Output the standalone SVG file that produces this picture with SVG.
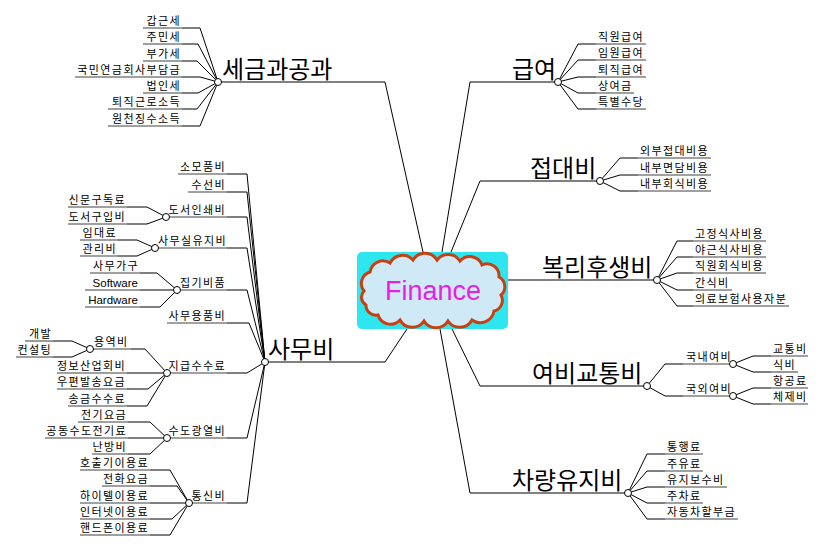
<svg xmlns="http://www.w3.org/2000/svg" width="831" height="550" viewBox="0 0 831 550">
<style>
.s{font-family:"Noto Sans CJK KR","Noto Sans",sans-serif;font-size:11px;letter-spacing:1.4px;fill:#000}
.m{font-family:"Noto Sans CJK KR","Noto Sans",sans-serif;font-size:24px;fill:#000}
.e{font-family:"Liberation Sans",Arial,sans-serif;font-size:11.5px;fill:#000}
.r{text-anchor:end}
.u{stroke:#808080;stroke-width:1.6;fill:none}
.um{stroke:#808080;stroke-width:2;fill:none}
.c{stroke:#000;stroke-width:1;fill:none}
.d{fill:#fff;stroke:#000;stroke-width:1}
</style>
<rect width="831" height="550" fill="#fff"/>
<g id="connectors">
<polyline class="c" points="423,252 385,82 336,82"/>
<polyline class="c" points="442,252 470,82 510,82"/>
<polyline class="c" points="451,252 480,181 528,181"/>
<polyline class="c" points="508,280 540,280"/>
<polyline class="c" points="452,329 480,386 530,386"/>
<polyline class="c" points="440,329 470,493 510,493"/>
<polyline class="c" points="407,329 385,362 336,362"/>
<polyline class="c" points="218,82 200,28 182,28"/>
<polyline class="c" points="218,82 198,44 182,44"/>
<polyline class="c" points="218,82 197,61 182,61"/>
<polyline class="c" points="218,82 200,77 182,77"/>
<polyline class="c" points="218,82 198,93 182,93"/>
<polyline class="c" points="218,82 197,109 182,109"/>
<polyline class="c" points="218,82 200,126 182,126"/>
<polyline class="c" points="558,82 578,44 596,44"/>
<polyline class="c" points="558,82 578,60 596,60"/>
<polyline class="c" points="558,82 578,77 596,77"/>
<polyline class="c" points="558,82 578,93 596,93"/>
<polyline class="c" points="558,82 578,109 596,109"/>
<polyline class="c" points="600,181 620,158 638,158"/>
<polyline class="c" points="600,181 620,175 638,175"/>
<polyline class="c" points="600,181 620,191 638,191"/>
<polyline class="c" points="657,280 677,241 693,241"/>
<polyline class="c" points="657,280 677,257 693,257"/>
<polyline class="c" points="657,280 677,273 693,273"/>
<polyline class="c" points="657,280 677,290 693,290"/>
<polyline class="c" points="657,280 677,306 693,306"/>
<polyline class="c" points="647,386 665,364 683,364"/>
<polyline class="c" points="647,386 665,396 683,396"/>
<polyline class="c" points="733,364 753,356 771,356"/>
<polyline class="c" points="733,364 753,372 771,372"/>
<polyline class="c" points="733,396 753,388 771,388"/>
<polyline class="c" points="733,396 753,404 771,404"/>
<polyline class="c" points="628,493 647,454 665,454"/>
<polyline class="c" points="628,493 647,471 665,471"/>
<polyline class="c" points="628,493 647,487 665,487"/>
<polyline class="c" points="628,493 647,503 665,503"/>
<polyline class="c" points="628,493 647,519 665,519"/>
<polyline class="c" points="265,362 247,174 227,174"/>
<polyline class="c" points="265,362 247,192 227,192"/>
<polyline class="c" points="265,362 247,217 227,217"/>
<polyline class="c" points="265,362 247,248 227,248"/>
<polyline class="c" points="265,362 247,290 227,290"/>
<polyline class="c" points="265,362 249,323 227,323"/>
<polyline class="c" points="265,362 247,373 227,373"/>
<polyline class="c" points="265,362 247,438 227,438"/>
<polyline class="c" points="265,362 247,503 227,503"/>
<polyline class="c" points="166,217 147,207 127,207"/>
<polyline class="c" points="166,217 147,224 127,224"/>
<polyline class="c" points="155,248 137,240 118,240"/>
<polyline class="c" points="155,248 137,256 118,256"/>
<polyline class="c" points="177,290 157,273 140,273"/>
<polyline class="c" points="177,290 140,290"/>
<polyline class="c" points="177,290 160,307 140,307"/>
<polyline class="c" points="167,373 145,349 131,349"/>
<polyline class="c" points="90,349 72,341 53,341"/>
<polyline class="c" points="90,349 72,357 53,357"/>
<polyline class="c" points="167,373 127,373"/>
<polyline class="c" points="167,373 148,389 127,389"/>
<polyline class="c" points="167,373 147,406 127,406"/>
<polyline class="c" points="167,438 150,422 128,422"/>
<polyline class="c" points="167,438 128,438"/>
<polyline class="c" points="167,438 150,454 128,454"/>
<polyline class="c" points="189,503 170,470 150,470"/>
<polyline class="c" points="189,503 177,486 150,486"/>
<polyline class="c" points="189,503 150,503"/>
<polyline class="c" points="189,503 172,519 150,519"/>
<polyline class="c" points="189,503 170,535 150,535"/>
</g>

<g id="n-finance">
<rect x="357" y="252" width="151" height="77" rx="5" fill="#2ee6f0"/>
<path d="M364,291 A12,12 0 0 1 370,272 A13,13 0 0 1 390,263 A14,14 0 0 1 413,260 A14,14 0 0 1 437,260 A14,14 0 0 1 460,261 A13,13 0 0 1 482,265 A12,12 0 0 1 499,277 A11,11 0 0 1 501,295 A11,11 0 0 1 494,311 A14,14 0 0 1 472,320 A14,14 0 0 1 448,321 A14,14 0 0 1 424,321 A14,14 0 0 1 400,320 A13,13 0 0 1 378,315 A10,10 0 0 1 366,305 A9,9 0 0 1 364,291 Z" fill="#cfe9f7" stroke="#c8400f" stroke-width="3"/>
<text x="433" y="300" text-anchor="middle" font-family="'Liberation Sans',Arial,sans-serif" font-size="27" fill="#e61ee6">Finance</text>
</g>

<g id="n-tax">
<line class="um" x1="218" y1="82" x2="336" y2="82"/>
<text class="m" x="222" y="78">세금과공과</text>
<circle class="d" cx="218" cy="82" r="3.5"/>
</g>
<g id="n-tax-1"><line class="u" x1="143" y1="28" x2="182" y2="28"/><text class="s r" x="181" y="25">갑근세</text></g>
<g id="n-tax-2"><line class="u" x1="143" y1="44" x2="182" y2="44"/><text class="s r" x="181" y="41">주민세</text></g>
<g id="n-tax-3"><line class="u" x1="143" y1="61" x2="182" y2="61"/><text class="s r" x="181" y="58">부가세</text></g>
<g id="n-tax-4"><line class="u" x1="75" y1="77" x2="182" y2="77"/><text class="s r" x="181" y="74">국민연금회사부담금</text></g>
<g id="n-tax-5"><line class="u" x1="143" y1="93" x2="182" y2="93"/><text class="s r" x="181" y="90">법인세</text></g>
<g id="n-tax-6"><line class="u" x1="108" y1="109" x2="182" y2="109"/><text class="s r" x="181" y="106">퇴직근로소득</text></g>
<g id="n-tax-7"><line class="u" x1="108" y1="126" x2="182" y2="126"/><text class="s r" x="181" y="123">원천징수소득</text></g>

<g id="n-pay">
<line class="um" x1="510" y1="82" x2="558" y2="82"/>
<text class="m" x="512" y="78">급여</text>
<circle class="d" cx="558" cy="82" r="3.5"/>
</g>
<g id="n-pay-1"><line class="u" x1="596" y1="44" x2="646" y2="44"/><text class="s" x="598" y="41">직원급여</text></g>
<g id="n-pay-2"><line class="u" x1="596" y1="60" x2="646" y2="60"/><text class="s" x="598" y="57">임원급여</text></g>
<g id="n-pay-3"><line class="u" x1="596" y1="77" x2="646" y2="77"/><text class="s" x="598" y="74">퇴직급여</text></g>
<g id="n-pay-4"><line class="u" x1="596" y1="93" x2="634" y2="93"/><text class="s" x="598" y="90">상여금</text></g>
<g id="n-pay-5"><line class="u" x1="596" y1="109" x2="646" y2="109"/><text class="s" x="598" y="106">특별수당</text></g>

<g id="n-ent">
<line class="um" x1="528" y1="181" x2="600" y2="181"/>
<text class="m" x="530" y="177">접대비</text>
<circle class="d" cx="600" cy="181" r="3.5"/>
</g>
<g id="n-ent-1"><line class="u" x1="638" y1="158" x2="711" y2="158"/><text class="s" x="640" y="155">외부접대비용</text></g>
<g id="n-ent-2"><line class="u" x1="638" y1="175" x2="711" y2="175"/><text class="s" x="640" y="172">내부면담비용</text></g>
<g id="n-ent-3"><line class="u" x1="638" y1="191" x2="711" y2="191"/><text class="s" x="640" y="188">내부회식비용</text></g>

<g id="n-welfare">
<line class="um" x1="540" y1="280" x2="657" y2="280"/>
<text class="m" x="542" y="276">복리후생비</text>
<circle class="d" cx="657" cy="280" r="3.5"/>
</g>
<g id="n-wel-1"><line class="u" x1="693" y1="241" x2="766" y2="241"/><text class="s" x="695" y="238">고정식사비용</text></g>
<g id="n-wel-2"><line class="u" x1="693" y1="257" x2="766" y2="257"/><text class="s" x="695" y="254">야근식사비용</text></g>
<g id="n-wel-3"><line class="u" x1="693" y1="273" x2="766" y2="273"/><text class="s" x="695" y="270">직원회식비용</text></g>
<g id="n-wel-4"><line class="u" x1="693" y1="290" x2="732" y2="290"/><text class="s" x="695" y="287">간식비</text></g>
<g id="n-wel-5"><line class="u" x1="693" y1="306" x2="789" y2="306"/><text class="s" x="695" y="303">의료보험사용자분</text></g>

<g id="n-travel">
<line class="um" x1="530" y1="386" x2="647" y2="386"/>
<text class="m" x="532" y="382">여비교통비</text>
<circle class="d" cx="647" cy="386" r="3.5"/>
</g>
<g id="n-trv-dom">
<line class="u" x1="683" y1="364" x2="733" y2="364"/>
<text class="s r" x="732" y="361">국내여비</text>
<circle class="d" cx="733" cy="364" r="3.5"/>
</g>
<g id="n-trv-dom-1"><line class="u" x1="771" y1="356" x2="808" y2="356"/><text class="s" x="773" y="353">교통비</text></g>
<g id="n-trv-dom-2"><line class="u" x1="771" y1="372" x2="798" y2="372"/><text class="s" x="773" y="369">식비</text></g>
<g id="n-trv-abr">
<line class="u" x1="683" y1="396" x2="733" y2="396"/>
<text class="s r" x="732" y="393">국외여비</text>
<circle class="d" cx="733" cy="396" r="3.5"/>
</g>
<g id="n-trv-abr-1"><line class="u" x1="771" y1="388" x2="808" y2="388"/><text class="s" x="773" y="385">항공료</text></g>
<g id="n-trv-abr-2"><line class="u" x1="771" y1="404" x2="808" y2="404"/><text class="s" x="773" y="401">체제비</text></g>

<g id="n-vehicle">
<line class="um" x1="510" y1="493" x2="628" y2="493"/>
<text class="m" x="512" y="489">차량유지비</text>
<circle class="d" cx="628" cy="493" r="3.5"/>
</g>
<g id="n-veh-1"><line class="u" x1="665" y1="454" x2="703" y2="454"/><text class="s" x="667" y="451">통행료</text></g>
<g id="n-veh-2"><line class="u" x1="665" y1="471" x2="703" y2="471"/><text class="s" x="667" y="468">주유료</text></g>
<g id="n-veh-3"><line class="u" x1="665" y1="487" x2="727" y2="487"/><text class="s" x="667" y="484">유지보수비</text></g>
<g id="n-veh-4"><line class="u" x1="665" y1="503" x2="703" y2="503"/><text class="s" x="667" y="500">주차료</text></g>
<g id="n-veh-5"><line class="u" x1="665" y1="519" x2="738" y2="519"/><text class="s" x="667" y="516">자동차할부금</text></g>

<g id="n-office">
<line class="um" x1="265" y1="362" x2="336" y2="362"/>
<text class="m" x="268" y="358">사무비</text>
<circle class="d" cx="265" cy="362" r="3.5"/>
</g>
<g id="n-off-1"><line class="u" x1="178" y1="174" x2="227" y2="174"/><text class="s r" x="226" y="171">소모품비</text></g>
<g id="n-off-2"><line class="u" x1="188" y1="192" x2="227" y2="192"/><text class="s r" x="226" y="189">수선비</text></g>
<g id="n-off-3">
<line class="u" x1="166" y1="217" x2="227" y2="217"/>
<text class="s r" x="226" y="214">도서인쇄비</text>
<circle class="d" cx="166" cy="217" r="3.5"/>
</g>
<g id="n-off-3-1"><line class="u" x1="68" y1="207" x2="127" y2="207"/><text class="s r" x="126" y="204">신문구독료</text></g>
<g id="n-off-3-2"><line class="u" x1="68" y1="224" x2="127" y2="224"/><text class="s r" x="126" y="221">도서구입비</text></g>
<g id="n-off-4">
<line class="u" x1="155" y1="248" x2="227" y2="248"/>
<text class="s r" x="227" y="245">사무실유지비</text>
<circle class="d" cx="155" cy="248" r="3.5"/>
</g>
<g id="n-off-4-1"><line class="u" x1="80" y1="240" x2="118" y2="240"/><text class="s r" x="117" y="237">임대료</text></g>
<g id="n-off-4-2"><line class="u" x1="80" y1="256" x2="118" y2="256"/><text class="s r" x="117" y="253">관리비</text></g>
<g id="n-off-5">
<line class="u" x1="177" y1="290" x2="227" y2="290"/>
<text class="s r" x="226" y="287">집기비품</text>
<circle class="d" cx="177" cy="290" r="3.5"/>
</g>
<g id="n-off-5-1"><line class="u" x1="90" y1="273" x2="140" y2="273"/><text class="s r" x="139" y="270">사무가구</text></g>
<g id="n-off-5-2"><line class="u" x1="85" y1="290" x2="140" y2="290"/><text class="e r" x="138" y="287">Software</text></g>
<g id="n-off-5-3"><line class="u" x1="85" y1="307" x2="140" y2="307"/><text class="e r" x="138" y="304">Hardware</text></g>
<g id="n-off-6"><line class="u" x1="167" y1="323" x2="227" y2="323"/><text class="s r" x="226" y="320">사무용품비</text></g>
<g id="n-off-7">
<line class="u" x1="167" y1="373" x2="227" y2="373"/>
<text class="s r" x="226" y="370">지급수수료</text>
<circle class="d" cx="167" cy="373" r="3.5"/>
</g>
<g id="n-off-7-1">
<line class="u" x1="90" y1="349" x2="131" y2="349"/>
<text class="s" x="94" y="346">용역비</text>
<circle class="d" cx="90" cy="349" r="3.5"/>
</g>
<g id="n-off-7-1-1"><line class="u" x1="25" y1="341" x2="53" y2="341"/><text class="s r" x="52" y="338">개발</text></g>
<g id="n-off-7-1-2"><line class="u" x1="16" y1="357" x2="53" y2="357"/><text class="s r" x="52" y="354">컨설팅</text></g>
<g id="n-off-7-2"><line class="u" x1="57" y1="373" x2="127" y2="373"/><text class="s r" x="126" y="370">정보산업회비</text></g>
<g id="n-off-7-3"><line class="u" x1="57" y1="389" x2="127" y2="389"/><text class="s r" x="126" y="386">우편발송요금</text></g>
<g id="n-off-7-4"><line class="u" x1="68" y1="406" x2="127" y2="406"/><text class="s r" x="126" y="403">송금수수료</text></g>
<g id="n-off-8">
<line class="u" x1="167" y1="438" x2="227" y2="438"/>
<text class="s r" x="226" y="435">수도광열비</text>
<circle class="d" cx="167" cy="438" r="3.5"/>
</g>
<g id="n-off-8-1"><line class="u" x1="78" y1="422" x2="128" y2="422"/><text class="s r" x="127" y="419">전기요금</text></g>
<g id="n-off-8-2"><line class="u" x1="45" y1="438" x2="128" y2="438"/><text class="s r" x="127" y="435">공동수도전기료</text></g>
<g id="n-off-8-3"><line class="u" x1="92" y1="454" x2="128" y2="454"/><text class="s r" x="127" y="451">난방비</text></g>
<g id="n-off-9">
<line class="u" x1="189" y1="503" x2="227" y2="503"/>
<text class="s r" x="226" y="500">통신비</text>
<circle class="d" cx="189" cy="503" r="3.5"/>
</g>
<g id="n-off-9-1"><line class="u" x1="80" y1="470" x2="150" y2="470"/><text class="s r" x="149" y="467">호출기이용료</text></g>
<g id="n-off-9-2"><line class="u" x1="102" y1="486" x2="150" y2="486"/><text class="s r" x="149" y="483">전화요금</text></g>
<g id="n-off-9-3"><line class="u" x1="80" y1="503" x2="150" y2="503"/><text class="s r" x="149" y="500">하이텔이용료</text></g>
<g id="n-off-9-4"><line class="u" x1="80" y1="519" x2="150" y2="519"/><text class="s r" x="149" y="516">인터넷이용료</text></g>
<g id="n-off-9-5"><line class="u" x1="80" y1="535" x2="150" y2="535"/><text class="s r" x="149" y="532">핸드폰이용료</text></g>
</svg>
